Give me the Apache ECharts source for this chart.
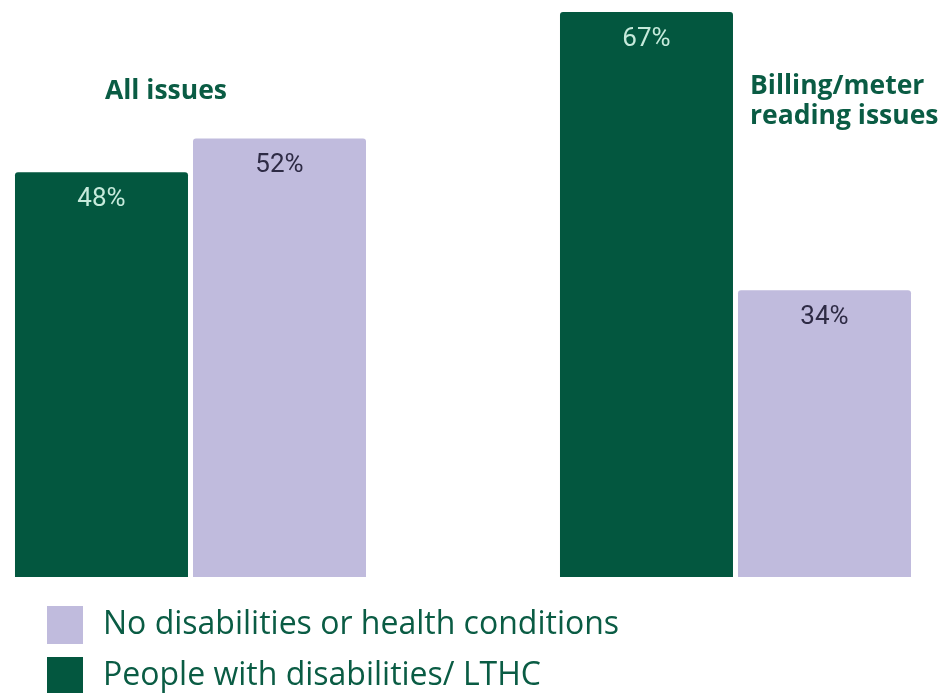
<!DOCTYPE html>
<html>
<head>
<meta charset="utf-8">
<script src="https://cdn.jsdelivr.net/npm/echarts@6/dist/echarts.min.js"></script>
<style>
  html, body { margin: 0; padding: 0; background: #ffffff; }
  #chart { width: 942px; height: 693px; }
</style>
</head>
<body>
<div id="chart"></div>
<script>
// Issue groups and the share of complaints in each group
const categories = ['All issues', 'Billing/meter reading issues'];
const categoryLines = [['All issues'], ['Billing/meter', 'reading issues']];
const seriesNames = ['People with disabilities/ LTHC', 'No disabilities or health conditions'];
const disabledValues = [48, 67];
const nonDisabledValues = [52, 34];

const GREEN = '#03573f';
const PURPLE = '#c0bbdd';
const TEXT_GREEN = '#0a5c44';

const chart = echarts.init(document.getElementById('chart'));

const labelFont = 'Roboto, "Liberation Sans", Arial, sans-serif';
const bodyFont = '"Open Sans", "Noto Sans", sans-serif';

// one single-item legend per row, stacked down the bottom-left corner
function legendRow(name, top) {
  return {
    orient: 'vertical',
    left: 42,
    top: top,
    itemWidth: 36,
    itemHeight: 38,
    icon: 'rect',
    data: [name],
    textStyle: {
      fontFamily: bodyFont,
      fontSize: 32,
      color: TEXT_GREEN,
      padding: [4, 0, 0, 15]
    },
    selectedMode: false
  };
}

chart.setOption({
  animation: false,
  grid: { left: 190.5, right: 206.5, top: 12, bottom: 116, containLabel: false },
  xAxis: {
    type: 'category',
    data: categories,
    boundaryGap: false,
    axisLine: { show: false },
    axisTick: { show: false },
    axisLabel: { show: false },
    splitLine: { show: false }
  },
  yAxis: {
    type: 'value',
    min: 0,
    max: 67,
    show: false,
    splitLine: { show: false }
  },
  legend: [
    legendRow(seriesNames[1], 601),
    legendRow(seriesNames[0], 652)
  ],
  series: [
    {
      name: seriesNames[0],
      type: 'bar',
      data: disabledValues,
      barWidth: 173,
      barGap: '2.9%',
      itemStyle: { color: GREEN, borderRadius: [3, 3, 0, 0] },
      label: {
        show: true,
        position: 'insideTop',
        distance: 14,
        formatter: '{c}%',
        fontFamily: labelFont,
        fontSize: 26,
        color: '#c6eadb'
      }
    },
    {
      name: seriesNames[1],
      type: 'bar',
      data: nonDisabledValues,
      barWidth: 173,
      itemStyle: { color: PURPLE, borderRadius: [3, 3, 0, 0] },
      label: {
        show: true,
        position: 'insideTop',
        distance: 14,
        formatter: '{c}%',
        fontFamily: labelFont,
        fontSize: 26,
        color: '#2e2b45'
      }
    }
  ],
  graphic: [
    {
      type: 'text',
      left: 105,
      top: 76,
      style: {
        text: categoryLines[0].join('\n'),
        font: 'bold 26.5px ' + bodyFont,
        fill: TEXT_GREEN,
        lineHeight: 30
      }
    },
    {
      type: 'text',
      left: 750,
      top: 71,
      style: {
        text: categoryLines[1].join('\n'),
        font: 'bold 26.5px ' + bodyFont,
        fill: TEXT_GREEN,
        lineHeight: 30
      }
    }
  ]
});
</script>
</body>
</html>
